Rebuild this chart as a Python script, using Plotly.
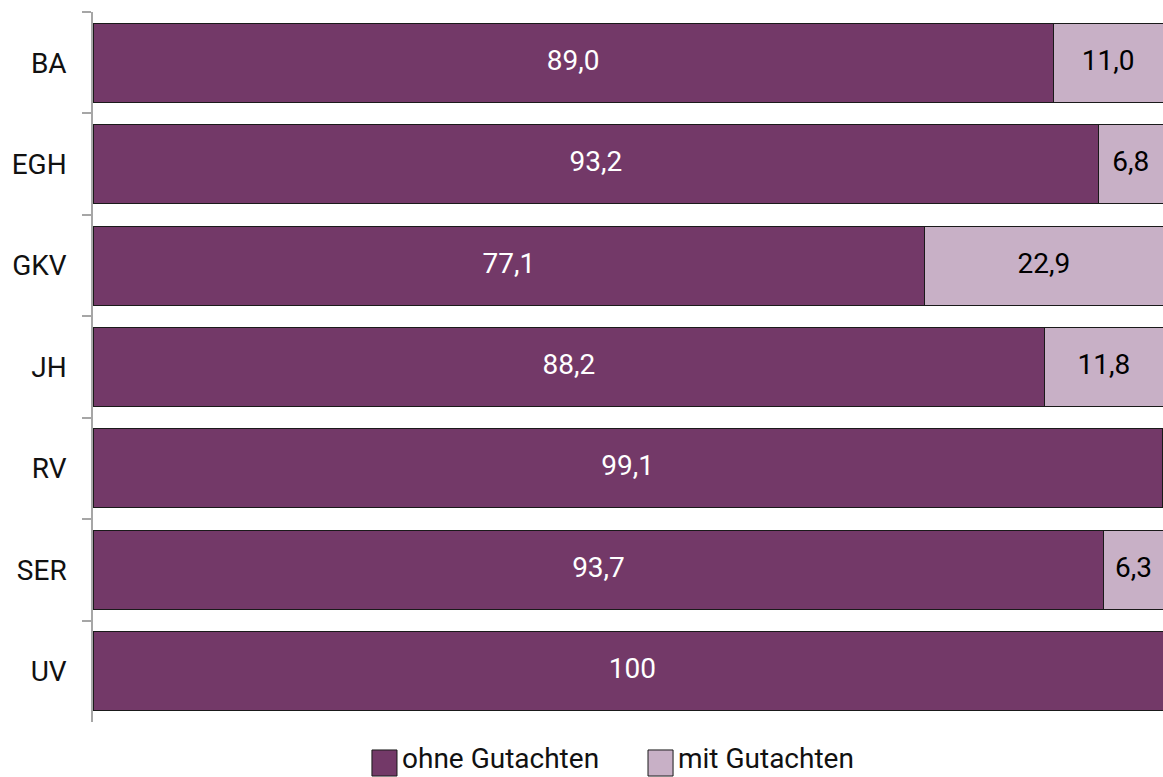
import plotly.graph_objects as go

categories = ["BA", "EGH", "GKV", "JH", "RV", "SER", "UV"]
ohne = [89.0, 93.2, 77.1, 88.2, 99.1, 93.7, 100.0]
mit = [11.0, 6.8, 22.9, 11.8, 0.9, 6.3, 0.0]
series = ["ohne Gutachten", "mit Gutachten"]

DARK = "#733968"
LIGHT = "#C8B0C6"
EDGE = "#1a1a1a"
XMAX = 99.17  # the source image is cropped just short of 100
FS = 28


def fmt(v):
    if v < 1:
        return ""
    if v == 100:
        return "100"
    return f"{v:.1f}".replace(".", ",")


fig = go.Figure()
fig.add_trace(go.Bar(
    y=categories, x=ohne, orientation="h", name=series[0], showlegend=False,
    marker=dict(color=DARK, line=dict(color=EDGE, width=1)),
))
fig.add_trace(go.Bar(
    y=categories, x=mit, orientation="h", name=series[1], showlegend=False,
    marker=dict(color=LIGHT, line=dict(color=EDGE, width=1)),
))
# value labels (light ones centred on the visible part of the segment)
fig.add_trace(go.Scatter(
    y=categories, x=[o / 2 for o in ohne], mode="text",
    text=[fmt(v) for v in ohne], textfont=dict(color="white", size=FS),
    showlegend=False, hoverinfo="skip", cliponaxis=False,
))
fig.add_trace(go.Scatter(
    y=categories, x=[(o + min(o + m, XMAX)) / 2 for o, m in zip(ohne, mit)],
    mode="text", text=[fmt(v) for v in mit], textfont=dict(color="black", size=FS),
    showlegend=False, hoverinfo="skip", cliponaxis=False,
))

# hand-made legend with large square swatches
for name, col, x0 in [(series[0], DARK, 0.2607), (series[1], LIGHT, 0.5187)]:
    fig.add_shape(type="rect", xref="paper", yref="paper",
                  x0=x0, x1=x0 + 0.0234, y0=-0.0394, y1=-0.0761,
                  fillcolor=col, line=dict(color=EDGE, width=1))
    fig.add_annotation(xref="paper", yref="paper", x=x0 + 0.0262, y=-0.0772,
                       xanchor="left", yanchor="bottom", showarrow=False,
                       text=name, font=dict(size=FS, color="#111111"))

fig.update_layout(
    barmode="stack", bargap=0.22,
    width=1163, height=777,
    margin=dict(l=93, r=0, t=12, b=55),
    paper_bgcolor="white", plot_bgcolor="white",
    font=dict(family="Roboto, Arial, sans-serif", size=FS, color="#111111"),
    showlegend=False,
    xaxis=dict(range=[0, XMAX], showgrid=False, zeroline=False, showticklabels=False,
               showline=False, fixedrange=True),
    yaxis=dict(autorange="reversed", showline=True, linecolor="#a6a6a6", linewidth=1.5,
               ticks="outside", tickson="boundaries", ticklen=9, tickcolor="#a6a6a6",
               tickwidth=1.5, showgrid=False, ticklabelstandoff=19, fixedrange=True),
)

fig.write_html("out.html", config={"displayModeBar": False},
               post_script="document.body.style.margin='0';")
